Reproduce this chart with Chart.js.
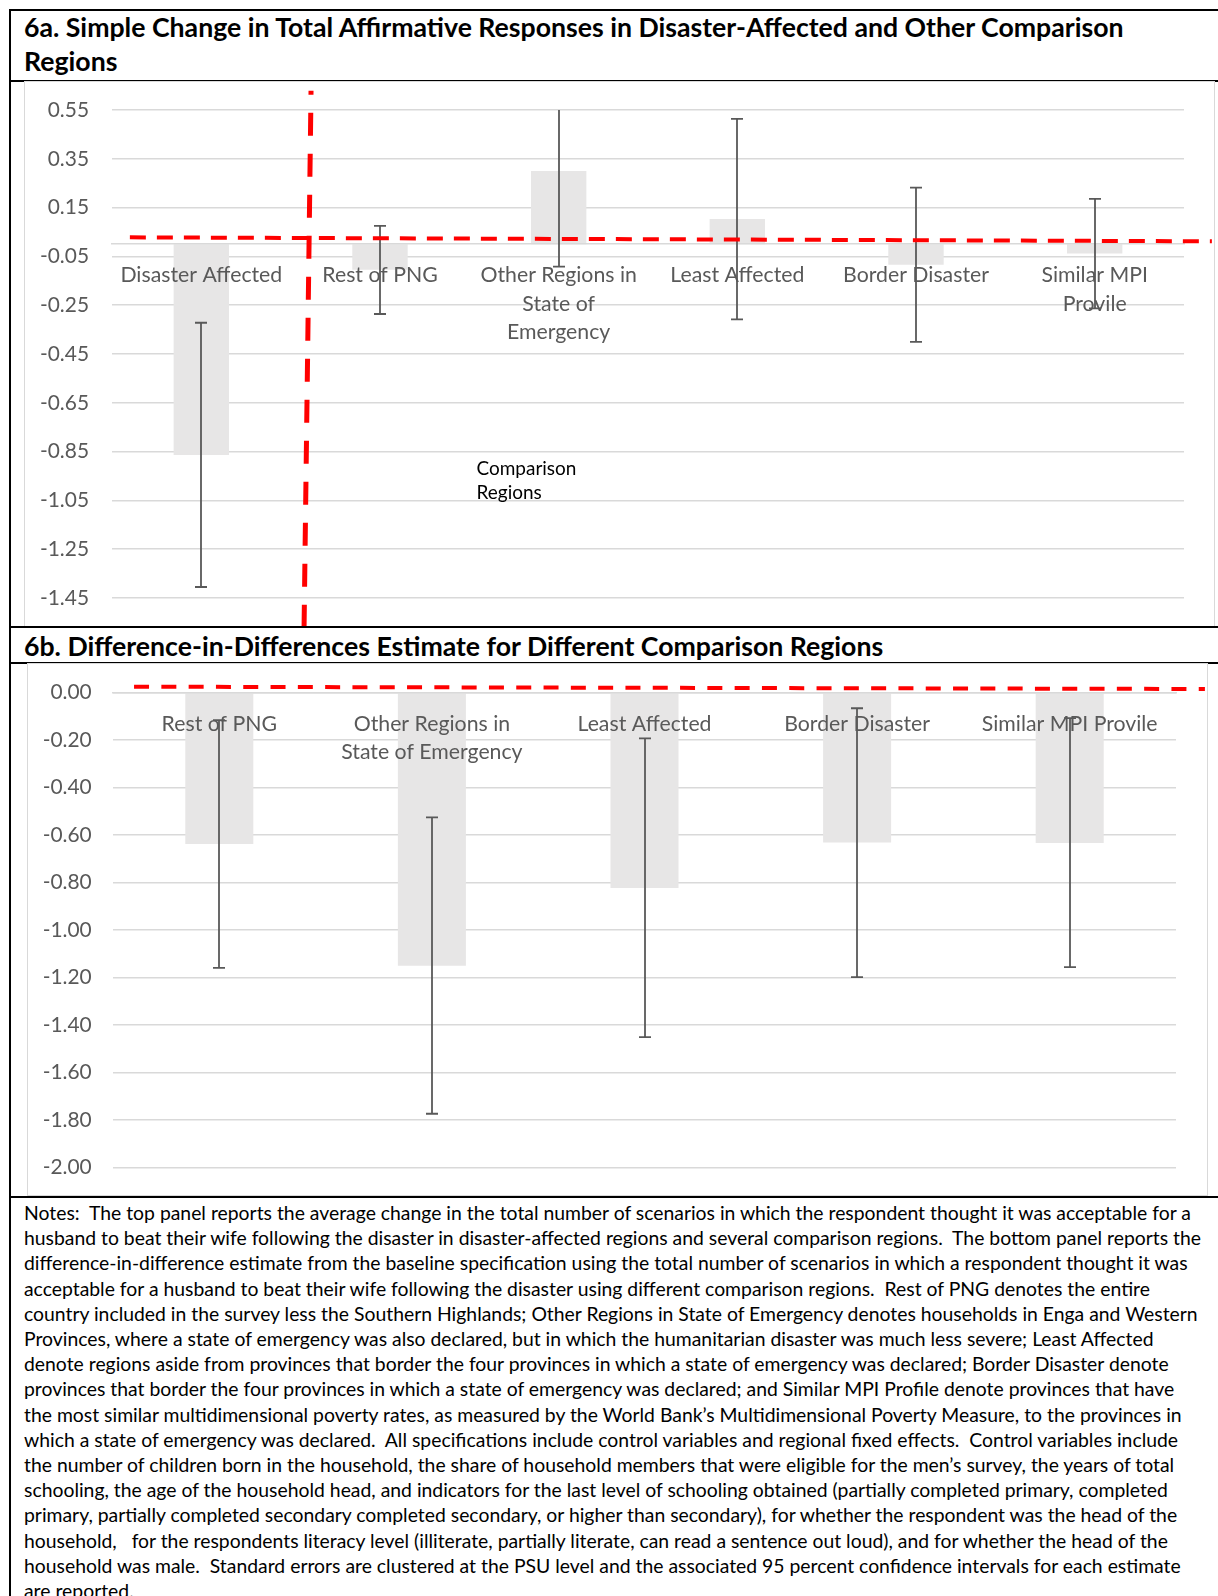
<!DOCTYPE html>
<html>
<head>
<meta charset="utf-8">
<script src="https://cdn.jsdelivr.net/npm/chart.js@4.4.1/dist/chart.umd.min.js"></script>
<style>
  html, body { margin: 0; padding: 0; background: #fff; }
  body { width: 1218px; height: 1596px; position: relative; overflow: hidden; font-family: Lato, sans-serif; }
  .hl { position: absolute; left: 9px; right: 0; height: 2px; background: #000; }
  .vl { position: absolute; left: 9px; top: 9px; bottom: 0; width: 2px; background: #000; }
  .title { position: absolute; left: 24px; font-weight: 700; color: #000; line-height: 34px; white-space: nowrap; }
  .box { position: absolute; border: 1px solid #d9d9d9; box-sizing: border-box; }
  canvas { position: absolute; }
  #notes { position: absolute; left: 24px; top: 1200px; line-height: 25.2px; color: #000; }
  #notes div { white-space: pre; }
</style>
</head>
<body>
<div class="hl" style="top:9px"></div>
<div class="vl"></div>
<div class="title" id="titleA" style="top:10px"><div>6a. Simple Change in Total Affirmative Responses in Disaster-Affected and Other Comparison</div><div>Regions</div></div>
<div class="hl" style="top:80px"></div>
<div class="box" style="left:24px;top:81px;width:1191px;height:546px"></div>
<canvas id="chartA" width="1189" height="543" style="left:25px;top:83px"></canvas>
<div class="hl" style="top:626px"></div>
<div class="title" id="titleB" style="top:629px"><div>6b. Difference-in-Differences Estimate for Different Comparison Regions</div></div>
<div class="hl" style="top:662px"></div>
<div class="box" style="left:27px;top:663px;width:1181px;height:533px"></div>
<canvas id="chartB" width="1178" height="531" style="left:28px;top:664px"></canvas>
<div class="hl" style="top:1196px"></div>
<div id="notes"></div>
<script>
// ---------------- DATA ----------------
const categoriesA = [['Disaster Affected'], ['Rest of PNG'], ['Other Regions in', 'State of', 'Emergency'], ['Least Affected'], ['Border Disaster'], ['Similar MPI', 'Provile']];
const valuesA = [-0.864, -0.105, 0.300, 0.103, -0.084, -0.038];
const lowerA  = [-1.405, -0.286, -0.092, -0.308, -0.400, -0.263];
const upperA  = [-0.322, 0.075, 0.692, 0.514, 0.232, 0.186];
const yTicksA = [0.55, 0.35, 0.15, -0.05, -0.25, -0.45, -0.65, -0.85, -1.05, -1.25, -1.45];

const categoriesB = [['Rest of PNG'], ['Other Regions in', 'State of Emergency'], ['Least Affected'], ['Border Disaster'], ['Similar MPI Provile']];
const valuesB = [-0.638, -1.150, -0.823, -0.632, -0.634];
const lowerB  = [-1.159, -1.773, -1.451, -1.198, -1.156];
const upperB  = [-0.117, -0.526, -0.194, -0.067, -0.109];
const yTicksB = [0.00, -0.20, -0.40, -0.60, -0.80, -1.00, -1.20, -1.40, -1.60, -1.80, -2.00];

const annotationTextA = ['Comparison', 'Regions'];

const notesLines = [
  'Notes:  The top panel reports the average change in the total number of scenarios in which the respondent thought it was acceptable for a',
  'husband to beat their wife following the disaster in disaster-affected regions and several comparison regions.  The bottom panel reports the',
  'difference-in-difference estimate from the baseline specification using the total number of scenarios in which a respondent thought it was',
  'acceptable for a husband to beat their wife following the disaster using different comparison regions.  Rest of PNG denotes the entire',
  'country included in the survey less the Southern Highlands; Other Regions in State of Emergency denotes households in Enga and Western',
  'Provinces, where a state of emergency was also declared, but in which the humanitarian disaster was much less severe; Least Affected',
  'denote regions aside from provinces that border the four provinces in which a state of emergency was declared; Border Disaster denote',
  'provinces that border the four provinces in which a state of emergency was declared; and Similar MPI Profile denote provinces that have',
  'the most similar multidimensional poverty rates, as measured by the World Bank\u2019s Multidimensional Poverty Measure, to the provinces in',
  'which a state of emergency was declared.  All specifications include control variables and regional fixed effects.  Control variables include',
  'the number of children born in the household, the share of household members that were eligible for the men\u2019s survey, the years of total',
  'schooling, the age of the household head, and indicators for the last level of schooling obtained (partially completed primary, completed',
  'primary, partially completed secondary completed secondary, or higher than secondary), for whether the respondent was the head of the',
  'household,   for the respondents literacy level (illiterate, partially literate, can read a sentence out loud), and for whether the head of the',
  'household was male.  Standard errors are clustered at the PSU level and the associated 95 percent confidence intervals for each estimate',
  'are reported.'
];

// ---------------- SIZING HELPERS ----------------
const FAMILY = 'Lato, sans-serif';
const mctx = document.createElement('canvas').getContext('2d');
function fitPx(text, weight, target) {
  mctx.font = weight + ' 100px ' + FAMILY;
  return 100 * target / mctx.measureText(text).width;
}

const titleSize = fitPx('6a. Simple Change in Total Affirmative Responses in Disaster-Affected and Other Comparison', 700, 1102);
document.getElementById('titleA').style.fontSize = titleSize + 'px';
document.getElementById('titleB').style.fontSize = titleSize + 'px';

const notesEl = document.getElementById('notes');
notesEl.style.fontSize = fitPx(notesLines[1], 400, 1179) + 'px';
notesLines.forEach(t => { const d = document.createElement('div'); d.textContent = t; notesEl.appendChild(d); });

const tickSize = fitPx('0.00', 400, 41.3);
const catSize = fitPx('Disaster Affected', 400, 162);
const annSize = fitPx('Comparison', 400, 100);

// ---------------- OVERLAY PLUGIN ----------------
const overlay = {
  id: 'overlay',
  afterDraw(chart, args, opts) {
    const { ctx, chartArea, scales: { x, y } } = chart;
    // error bars
    ctx.save();
    ctx.beginPath();
    ctx.rect(chartArea.left, chartArea.top, chartArea.right - chartArea.left, chartArea.bottom - chartArea.top);
    ctx.clip();
    ctx.strokeStyle = '#595959';
    ctx.lineWidth = 1.8;
    opts.lower.forEach((lo, i) => {
      const px = Math.round(x.getPixelForValue(i));
      const y1 = y.getPixelForValue(opts.upper[i]);
      const y2 = y.getPixelForValue(lo);
      ctx.beginPath();
      ctx.moveTo(px, y1); ctx.lineTo(px, y2);
      ctx.moveTo(px - 6, y1); ctx.lineTo(px + 6, y1);
      ctx.moveTo(px - 6, y2); ctx.lineTo(px + 6, y2);
      ctx.stroke();
    });
    ctx.restore();
    // annotation text
    if (opts.text) {
      ctx.save();
      ctx.fillStyle = '#000';
      ctx.font = annSize + 'px ' + FAMILY;
      ctx.textBaseline = 'alphabetic';
      ctx.textAlign = 'left';
      const tx = x.getPixelForValue(opts.text.x);
      const ty = y.getPixelForValue(opts.text.y);
      opts.text.lines.forEach((t, k) => ctx.fillText(t, tx, ty + k * 24.3));
      ctx.restore();
    }
    // red dashed reference lines
    (opts.refLines || []).forEach(r => {
      ctx.save();
      ctx.strokeStyle = '#ff0000';
      ctx.lineWidth = r.width;
      ctx.lineCap = 'butt';
      ctx.setLineDash(r.dash);
      ctx.lineDashOffset = r.offset || 0;
      ctx.beginPath();
      ctx.moveTo(x.getPixelForValue(r.x0), y.getPixelForValue(r.y0));
      ctx.lineTo(x.getPixelForValue(r.x1), y.getPixelForValue(r.y1));
      ctx.stroke();
      ctx.restore();
    });
  }
};

function makeChart(id, cats, vals, lo, hi, yTicks, geom, extra) {
  return new Chart(document.getElementById(id), {
    type: 'bar',
    data: {
      labels: cats,
      datasets: [{
        data: vals,
        backgroundColor: '#e7e6e6',
        borderWidth: 0,
        categoryPercentage: 1,
        barPercentage: geom.barPct
      }]
    },
    options: {
      responsive: false,
      animation: false,
      devicePixelRatio: 1,
      layout: { padding: geom.padding },
      plugins: {
        legend: { display: false },
        tooltip: { enabled: false },
        overlay: Object.assign({ lower: lo, upper: hi }, extra)
      },
      scales: {
        x: {
          type: 'category',
          position: { y: 0 },
          offset: true,
          grid: { display: false, drawTicks: false },
          border: { display: true, color: '#d9d9d9', width: 1.5, z: 1 },
          ticks: {
            z: 1,
            autoSkip: false, maxRotation: 0, minRotation: 0,
            padding: geom.labelPad,
            color: '#595959',
            font: { family: FAMILY, size: catSize, lineHeight: geom.lineH + 'px' }
          }
        },
        y: {
          min: yTicks[yTicks.length - 1],
          max: yTicks[0],
          afterBuildTicks: s => { s.ticks = yTicks.map(v => ({ value: v })); },
          afterFit: s => { s.width = geom.axisW; },
          grid: { color: '#d9d9d9', lineWidth: 1.5, drawTicks: true, tickLength: geom.tickPad, tickColor: 'rgba(0,0,0,0)' },
          border: { display: false },
          ticks: {
            padding: 0,
            color: '#595959',
            font: { family: FAMILY, size: tickSize },
            callback: v => Number(v).toFixed(2)
          }
        }
      }
    },
    plugins: [overlay]
  });
}

makeChart('chartA', categoriesA, valuesA, lowerA, upperA, yTicksA,
  { barPct: 0.31, padding: { left: 0, right: 30, top: 27, bottom: 28 }, axisW: 87, tickPad: 23, lineH: 28.3, labelPad: 17 },
  {
    text: { lines: annotationTextA, x: 1.54, y: -0.946 },
    refLines: [
      { x0: -0.40, y0: 0.028, x1: 5.656, y1: 0.012, width: 4, dash: [16, 11] },
      { x0: 0.614, y0: 0.629, x1: 0.575, y1: -1.569, width: 5, dash: [23, 18], offset: 19 }
    ]
  });

makeChart('chartB', categoriesB, valuesB, lowerB, upperB, yTicksB,
  { barPct: 0.32, padding: { left: 0, right: 30, top: 28.3, bottom: 27.3 }, axisW: 85, tickPad: 21.3, lineH: 28, labelPad: 18 },
  {
    refLines: [
      { x0: -0.401, y0: 0.0236, x1: 4.636, y1: 0.0139, width: 4, dash: [15, 12.3] }
    ]
  });
</script>
</body>
</html>
